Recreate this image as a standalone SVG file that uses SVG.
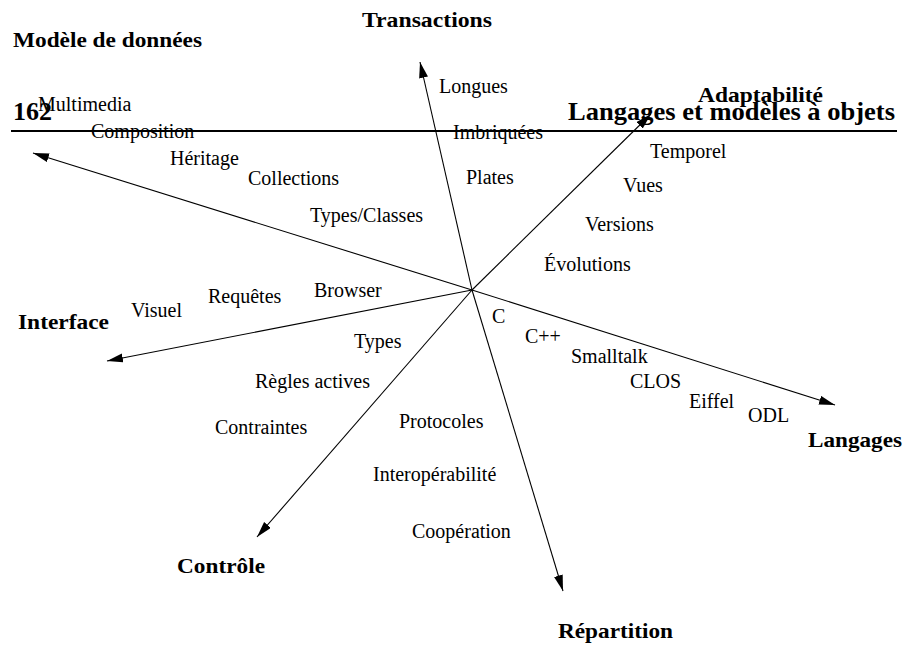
<svg xmlns="http://www.w3.org/2000/svg" width="905" height="646" viewBox="0 0 905 646">
<style>
  text { font-family: "Liberation Serif", "Times New Roman", serif; fill: #000; }
  .r { font-size: 20px; }
  .b { font-size: 22px; font-weight: bold; }
  .h { font-size: 26px; font-weight: bold; }
  .ax { stroke: #000; stroke-width: 1.1; fill: none; marker-end: url(#ah); }
</style>
<defs>
  <marker id="ah" markerUnits="userSpaceOnUse" markerWidth="17" markerHeight="10" refX="16" refY="4.5" orient="auto">
    <path d="M0,0 L16,4.5 L0,9 Z" fill="#000"/>
  </marker>
</defs>
<rect width="905" height="646" fill="#fff"/>

<g id="header">
  <line x1="11" y1="131" x2="897" y2="131" stroke="#000" stroke-width="2"/>
  <text class="h" x="13" y="120">162</text>
  <text class="h" x="568" y="120" textLength="327" lengthAdjust="spacingAndGlyphs">Langages et modèles à objets</text>
</g>

<g id="connectors">
  <line class="ax" x1="472" y1="290" x2="33" y2="153"/>
  <line class="ax" x1="472" y1="290" x2="420" y2="62"/>
  <line class="ax" x1="472" y1="290" x2="651" y2="114"/>
  <line class="ax" x1="472" y1="290" x2="835" y2="405"/>
  <line class="ax" x1="472" y1="290" x2="563" y2="591"/>
  <line class="ax" x1="472" y1="290" x2="257" y2="537"/>
  <line class="ax" x1="472" y1="290" x2="107" y2="361"/>
</g>

<g id="modele">
  <text class="b" x="13" y="47" textLength="189" lengthAdjust="spacingAndGlyphs">Modèle de données</text>
  <text class="r" x="38" y="111">Multimedia</text>
  <text class="r" x="91" y="138">Composition</text>
  <text class="r" x="170" y="165">Héritage</text>
  <text class="r" x="248" y="185">Collections</text>
  <text class="r" x="310" y="222">Types/Classes</text>
</g>

<g id="transactions">
  <text class="b" x="362" y="27" textLength="130" lengthAdjust="spacingAndGlyphs">Transactions</text>
  <text class="r" x="439" y="93">Longues</text>
  <text class="r" x="453" y="139">Imbriquées</text>
  <text class="r" x="466" y="184">Plates</text>
</g>

<g id="adaptabilite">
  <text class="b" x="698" y="102" textLength="125" lengthAdjust="spacingAndGlyphs">Adaptabilité</text>
  <text class="r" x="650" y="158">Temporel</text>
  <text class="r" x="623" y="192">Vues</text>
  <text class="r" x="585" y="231">Versions</text>
  <text class="r" x="544" y="271">Évolutions</text>
</g>

<g id="langages">
  <text class="b" x="808" y="447" textLength="94" lengthAdjust="spacingAndGlyphs">Langages</text>
  <text class="r" x="492" y="323">C</text>
  <text class="r" x="525" y="343">C++</text>
  <text class="r" x="571" y="363">Smalltalk</text>
  <text class="r" x="630" y="388">CLOS</text>
  <text class="r" x="689" y="408">Eiffel</text>
  <text class="r" x="748" y="422">ODL</text>
</g>

<g id="repartition">
  <text class="b" x="558" y="638" textLength="115" lengthAdjust="spacingAndGlyphs">Répartition</text>
  <text class="r" x="399" y="428">Protocoles</text>
  <text class="r" x="373" y="481">Interopérabilité</text>
  <text class="r" x="412" y="538">Coopération</text>
</g>

<g id="controle">
  <text class="b" x="177" y="573" textLength="88" lengthAdjust="spacingAndGlyphs">Contrôle</text>
  <text class="r" x="354" y="348">Types</text>
  <text class="r" x="255" y="388">Règles actives</text>
  <text class="r" x="215" y="434">Contraintes</text>
</g>

<g id="interface">
  <text class="b" x="18" y="329" textLength="91" lengthAdjust="spacingAndGlyphs">Interface</text>
  <text class="r" x="131" y="317">Visuel</text>
  <text class="r" x="208" y="303">Requêtes</text>
  <text class="r" x="314" y="297">Browser</text>
</g>
</svg>
